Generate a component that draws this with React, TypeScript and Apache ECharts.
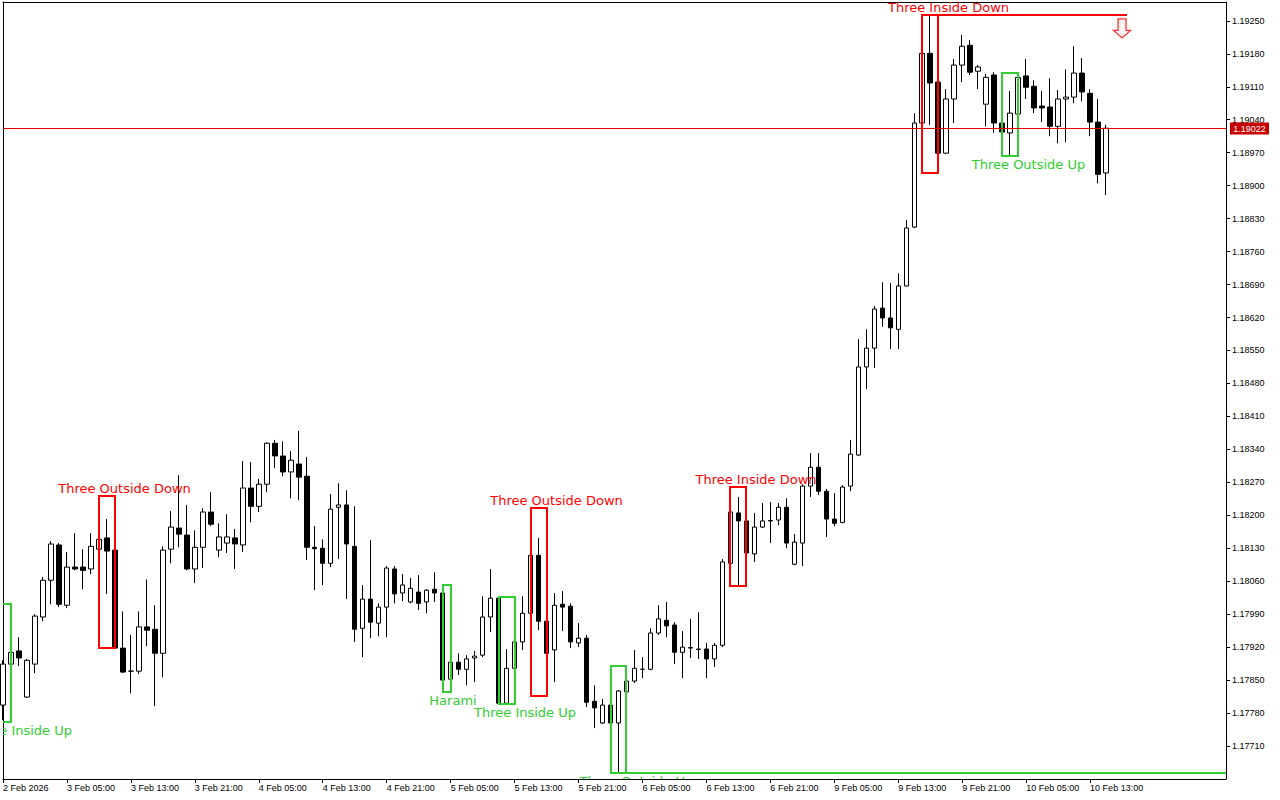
import React, { useEffect, useRef } from "react";
import * as echarts from "echarts";

// ---------- data ----------
const tickLabels = [
  "2 Feb 2026", "3 Feb 05:00", "3 Feb 13:00", "3 Feb 21:00", "4 Feb 05:00", "4 Feb 13:00",
  "4 Feb 21:00", "5 Feb 05:00", "5 Feb 13:00", "5 Feb 21:00", "6 Feb 05:00", "6 Feb 13:00",
  "6 Feb 21:00", "9 Feb 05:00", "9 Feb 13:00", "9 Feb 21:00", "10 Feb 05:00", "10 Feb 13:00",
];
const barsPerTick = 8;
const slotCount = 154;

const opens = [
  1.17797, 1.17884, 1.17912, 1.17814, 1.17884, 1.17984, 1.18062, 1.18137, 1.18009, 1.18090,
  1.18090, 1.18086, 1.18128, 1.18152, 1.18126, 1.17918, 1.17869, 1.17869, 1.17963, 1.17958,
  1.17907, 1.18128, 1.18173, 1.18158, 1.18086, 1.18132, 1.18207, 1.18126, 1.18141, 1.18152,
  1.18137, 1.18258, 1.18219, 1.18266, 1.18353, 1.18326, 1.18292, 1.18309, 1.18283, 1.18132,
  1.18130, 1.18098, 1.18217, 1.18222, 1.18134, 1.17960, 1.18022, 1.17971, 1.18005, 1.18086,
  1.18035, 1.18016, 1.18037, 1.18016, 1.18043, 1.18035, 1.17852, 1.17888, 1.17873, 1.17897,
  1.17903, 1.17984, 1.18024, 1.17801, 1.17875, 1.17931, 1.17992, 1.18115, 1.17975, 1.17914,
  1.18011, 1.18007, 1.17929, 1.17939, 1.17805, 1.17759, 1.17797, 1.17759, 1.17825, 1.17848,
  1.17873, 1.17873, 1.17950, 1.17977, 1.17967, 1.17909, 1.17919, 1.17916, 1.17916, 1.17895,
  1.17924, 1.18098, 1.18205, 1.18188, 1.18118, 1.18175, 1.18189, 1.18190, 1.18217, 1.18096,
  1.18141, 1.18262, 1.18302, 1.18251, 1.18192, 1.18185, 1.18262, 1.18328, 1.18515, 1.18555,
  1.18640, 1.18619, 1.18595, 1.18687, 1.18812, 1.19033, 1.19181, 1.19120, 1.18969, 1.19084,
  1.19156, 1.19198, 1.19143, 1.19073, 1.19135, 1.19033, 1.19012, 1.19052, 1.19133, 1.19111,
  1.19069, 1.19067, 1.19026, 1.19084, 1.19088, 1.19139, 1.19096, 1.19035, 1.18927,
];
const closes = [
  1.17884, 1.17909, 1.17897, 1.17892, 1.17986, 1.18062, 1.18139, 1.18011, 1.18090, 1.18086,
  1.18083, 1.18134, 1.18149, 1.18124, 1.17918, 1.17867, 1.17869, 1.17963, 1.17956, 1.17907,
  1.18126, 1.18175, 1.18160, 1.18086, 1.18132, 1.18207, 1.18181, 1.18154, 1.18154, 1.18139,
  1.18258, 1.18219, 1.18266, 1.18353, 1.18326, 1.18292, 1.18317, 1.18281, 1.18132, 1.18129,
  1.18098, 1.18213, 1.18222, 1.18139, 1.17958, 1.18022, 1.17973, 1.18005, 1.18088, 1.18033,
  1.18052, 1.18045, 1.18013, 1.18041, 1.18035, 1.17850, 1.17888, 1.17873, 1.17895, 1.17901,
  1.17984, 1.18024, 1.17801, 1.17875, 1.17931, 1.17992, 1.18115, 1.17975, 1.17907, 1.18009,
  1.18005, 1.17931, 1.17939, 1.17803, 1.17791, 1.17797, 1.17759, 1.17827, 1.17848, 1.17875,
  1.17873, 1.17950, 1.17980, 1.17965, 1.17909, 1.17920, 1.17918, 1.17915, 1.17895, 1.17924,
  1.18101, 1.18207, 1.18188, 1.18120, 1.18175, 1.18188, 1.18188, 1.18217, 1.18141, 1.18143,
  1.18262, 1.18302, 1.18251, 1.18192, 1.18183, 1.18260, 1.18330, 1.18515, 1.18555, 1.18638,
  1.18619, 1.18598, 1.18687, 1.18810, 1.19033, 1.19181, 1.19118, 1.18969, 1.19084, 1.19156,
  1.19196, 1.19141, 1.19152, 1.19130, 1.19033, 1.19014, 1.19054, 1.19130, 1.19109, 1.19065,
  1.19065, 1.19026, 1.19084, 1.19088, 1.19139, 1.19099, 1.19035, 1.18924, 1.19022,
];
const lows = [
  1.17765, 1.17865, 1.17880, 1.17812, 1.17865, 1.17975, 1.18011, 1.18005, 1.18003, 1.18083,
  1.18043, 1.18075, 1.18094, 1.18033, 1.17916, 1.17865, 1.17822, 1.17863, 1.17922, 1.17795,
  1.17856, 1.18098, 1.18132, 1.18083, 1.18056, 1.18088, 1.18177, 1.18111, 1.18120, 1.18086,
  1.18122, 1.18185, 1.18207, 1.18249, 1.18300, 1.18283, 1.18236, 1.18232, 1.18105, 1.18041,
  1.18052, 1.18090, 1.18107, 1.18022, 1.17931, 1.17899, 1.17939, 1.17943, 1.17941, 1.18013,
  1.18018, 1.18013, 1.17999, 1.17992, 1.18016, 1.17848, 1.17825, 1.17861, 1.17839, 1.17846,
  1.17899, 1.17952, 1.17799, 1.17800, 1.17856, 1.17914, 1.17907, 1.17956, 1.17816, 1.17846,
  1.17954, 1.17918, 1.17920, 1.17793, 1.17748, 1.17757, 1.17746, 1.17653, 1.17782, 1.17844,
  1.17854, 1.17871, 1.17946, 1.17941, 1.17884, 1.17854, 1.17897, 1.17895, 1.17854, 1.17878,
  1.17920, 1.18094, 1.18050, 1.18098, 1.18101, 1.18173, 1.18141, 1.18179, 1.18130, 1.18094,
  1.18092, 1.18239, 1.18243, 1.18154, 1.18177, 1.18183, 1.18251, 1.18326, 1.18468, 1.18513,
  1.18600, 1.18553, 1.18553, 1.18686, 1.18810, 1.19029, 1.19029, 1.18927, 1.18967, 1.19033,
  1.19120, 1.19135, 1.19105, 1.19026, 1.19012, 1.18982, 1.18963, 1.19050, 1.19084, 1.19054,
  1.19035, 1.19005, 1.18990, 1.18992, 1.19075, 1.19079, 1.19005, 1.18905, 1.18880,
];
const highs = [
  1.17892, 1.17920, 1.17941, 1.17895, 1.17990, 1.18069, 1.18145, 1.18141, 1.18122, 1.18162,
  1.18128, 1.18162, 1.18241, 1.18192, 1.18158, 1.17996, 1.17946, 1.17996, 1.18064, 1.18009,
  1.18134, 1.18209, 1.18285, 1.18222, 1.18168, 1.18215, 1.18249, 1.18183, 1.18202, 1.18171,
  1.18315, 1.18313, 1.18277, 1.18355, 1.18360, 1.18357, 1.18336, 1.18379, 1.18324, 1.18177,
  1.18149, 1.18245, 1.18268, 1.18253, 1.18219, 1.18052, 1.18147, 1.18013, 1.18092, 1.18092,
  1.18075, 1.18067, 1.18073, 1.18043, 1.18079, 1.18052, 1.17907, 1.17907, 1.17903, 1.17912,
  1.18028, 1.18086, 1.18026, 1.17916, 1.17948, 1.18028, 1.18215, 1.18152, 1.18115, 1.18035,
  1.18039, 1.18013, 1.17971, 1.17946, 1.17839, 1.17810, 1.17808, 1.17829, 1.17880, 1.17914,
  1.17899, 1.17960, 1.18009, 1.18016, 1.17973, 1.17954, 1.17980, 1.17994, 1.17929, 1.17929,
  1.18107, 1.18260, 1.18239, 1.18215, 1.18205, 1.18226, 1.18228, 1.18226, 1.18236, 1.18160,
  1.18266, 1.18332, 1.18332, 1.18256, 1.18247, 1.18264, 1.18360, 1.18574, 1.18595, 1.18644,
  1.18695, 1.18693, 1.18714, 1.18827, 1.19054, 1.19188, 1.19262, 1.19173, 1.19105, 1.19169,
  1.19220, 1.19209, 1.19156, 1.19137, 1.19141, 1.19052, 1.19101, 1.19139, 1.19169, 1.19124,
  1.19101, 1.19128, 1.19103, 1.19147, 1.19196, 1.19171, 1.19105, 1.19084, 1.19029,
];

const lastPrice = 1.19022;
const arrowIndex = 140;
const arrowTop = 1.19254;

const patternNames = [
  "Three Inside Up", "Three Outside Down", "Harami", "Three Inside Up", "Three Outside Down",
  "Three Outside Up", "Three Inside Down", "Three Inside Down", "Three Outside Up",
];
const patternStart = [-1, 12, 55, 62, 66, 76, 91, 115, 125];
const patternEnd = [1, 14, 56, 64, 68, 78, 93, 117, 127];
const patternHigh = [1.18011, 1.18241, 1.18052, 1.18026, 1.18215, 1.1788, 1.1826, 1.19262, 1.19139];
const patternLow = [1.17761, 1.17918, 1.17825, 1.17799, 1.17816, 1.17653, 1.1805, 1.18927, 1.18963];
const patternBull = [true, false, true, true, false, true, false, false, true];
const patternExtendTo: (number | null)[] = [null, null, null, null, null, 160, null, 140.6, null];

// ---------- styles ----------
const labelDx = [26, 25.5, 10, 26, 25.5, 25.5, 26, 26.5, 26.5];
const GREEN = "#32cd32";
const RED = "#ff0000";
const AXIS_FONT = "Liberation Sans";
const TEXT_FONT = '13px "DejaVu Sans"';

export default function App() {
  const ref = useRef<HTMLDivElement>(null);

  useEffect(() => {
    const chart = echarts.init(ref.current!, null, { renderer: "svg" });
    const categories = Array.from({ length: slotCount }, (_, i) => String(i));
    const candles = opens.map((o, i) => [o, closes[i], lows[i], highs[i]]);
    const showTick = (idx: number) =>
      idx % barsPerTick === 0 && idx / barsPerTick < tickLabels.length;

    const option: any = {
      animation: false,
      backgroundColor: "#ffffff",
      grid: { left: 2, top: 2, right: 54, bottom: 21, show: false },
      xAxis: [
        {
          type: "category",
          data: categories,
          boundaryGap: false,
          position: "bottom",
          axisLine: { show: true, onZero: false, lineStyle: { color: "#000", width: 1 } },
          axisTick: { show: true, interval: showTick, length: 4, lineStyle: { color: "#000" } },
          axisLabel: {
            show: true,
            interval: showTick,
            formatter: (_v: string, idx: number) => tickLabels[idx / barsPerTick] ?? "",
            align: "left",
            margin: 4,
            fontSize: 9,
            fontFamily: AXIS_FONT,
            color: "#000",
          },
          splitLine: { show: false },
        },
        {
          type: "category",
          data: categories,
          boundaryGap: false,
          position: "top",
          axisLine: { show: true, onZero: false, lineStyle: { color: "#000", width: 1 } },
          axisTick: { show: false },
          axisLabel: { show: false },
          splitLine: { show: false },
        },
      ],
      yAxis: [
        {
          type: "value",
          position: "right",
          min: 1.1764,
          max: 1.1929,
          interval: 0.0007,
          axisLine: { show: true, onZero: false, lineStyle: { color: "#000", width: 1 } },
          axisTick: { show: true, length: 4, lineStyle: { color: "#000" } },
          axisLabel: {
            show: true,
            margin: 6,
            fontSize: 9,
            fontFamily: AXIS_FONT,
            color: "#000",
            showMinLabel: false,
            showMaxLabel: false,
            formatter: (v: number) => v.toFixed(5),
          },
          splitLine: { show: false },
        },
        {
          type: "value",
          position: "left",
          min: 1.1764,
          max: 1.1929,
          axisLine: { show: true, onZero: false, lineStyle: { color: "#000", width: 1 } },
          axisTick: { show: false },
          axisLabel: { show: false },
          splitLine: { show: false },
        },
      ],
      series: [
        {
          type: "candlestick",
          data: candles,
          barWidth: 5,
          clip: true,
          silent: true,
          z: 3,
          itemStyle: {
            color: "#ffffff",
            color0: "#000000",
            borderColor: "#000000",
            borderColor0: "#000000",
            borderWidth: 1,
          },
          emphasis: { disabled: true },
        },
        {
          type: "custom",
          clip: true,
          silent: true,
          z: 4,
          data: patternEnd.map((e, i) => [e, patternHigh[i], patternLow[i], i]),
          encode: { x: 0, y: [1, 2] },
          renderItem: (_params: any, api: any) => {
            const i = api.value(3) as number;
            const p0 = api.coord([0, patternHigh[i]]);
            const p1 = api.coord([1, patternLow[i]]);
            const step = p1[0] - p0[0];
            const xs = Math.round(p0[0] + patternStart[i] * step);
            const xe = Math.round(p0[0] + patternEnd[i] * step);
            const yt = Math.round(p0[1]);
            const yb = Math.round(p1[1]);
            const bull = patternBull[i];
            const color = bull ? GREEN : RED;
            const children: any[] = [
              {
                type: "rect",
                shape: { x: xs, y: yt, width: xe - xs, height: yb - yt },
                style: { fill: "none", stroke: color, lineWidth: 2 },
              },
            ];
            const ext = patternExtendTo[i];
            if (ext != null) {
              const xx = Math.round(p0[0] + ext * step);
              const yy = bull ? yb : yt;
              children.push({
                type: "line",
                shape: { x1: xe, y1: yy, x2: xx, y2: yy },
                style: { stroke: color, lineWidth: 2 },
              });
            }
            children.push({
              type: "text",
              x: xs + labelDx[i],
              y: bull ? yb + 8 : yt - 8,
              style: {
                text: patternNames[i],
                fill: color,
                font: TEXT_FONT,
                align: "center",
                verticalAlign: "middle",
              },
            });
            return { type: "group", children };
          },
        },
        {
          type: "custom",
          clip: false,
          silent: true,
          z: 5,
          data: [[arrowIndex, lastPrice]],
          encode: { x: 0, y: 1 },
          renderItem: (params: any, api: any) => {
            const cs = params.coordSys;
            const py = Math.round(api.coord([0, lastPrice])[1]) + 0.5;
            const a = api.coord([arrowIndex, arrowTop]);
            const cx = a[0];
            const t = a[1];
            const right = cs.x + cs.width;
            return {
              type: "group",
              children: [
                {
                  type: "line",
                  shape: { x1: cs.x, y1: py, x2: right, y2: py },
                  style: { stroke: "#e00000", lineWidth: 1 },
                },
                {
                  type: "rect",
                  shape: { x: right + 4, y: py - 6, width: 39, height: 12 },
                  style: { fill: "#c80000" },
                },
                {
                  type: "text",
                  x: right + 4 + 19.5,
                  y: py,
                  style: {
                    text: lastPrice.toFixed(5),
                    fill: "#ffffff",
                    font: `9px "${AXIS_FONT}"`,
                    align: "center",
                    verticalAlign: "middle",
                  },
                },
                {
                  type: "polygon",
                  shape: {
                    points: [
                      [cx - 4, t],
                      [cx + 4, t],
                      [cx + 4, t + 11.5],
                      [cx + 8.5, t + 11.5],
                      [cx, t + 19],
                      [cx - 8.5, t + 11.5],
                      [cx - 4, t + 11.5],
                    ],
                  },
                  style: { fill: "#fff5f5", stroke: "#ff3030", lineWidth: 1.3 },
                },
              ],
            };
          },
        },
      ],
    };

    chart.setOption(option);
    return () => chart.dispose();
  }, []);

  return (
    <div
      ref={ref}
      style={{ position: "fixed", left: 0, top: 0, width: 1280, height: 800, background: "#fff" }}
    />
  );
}
